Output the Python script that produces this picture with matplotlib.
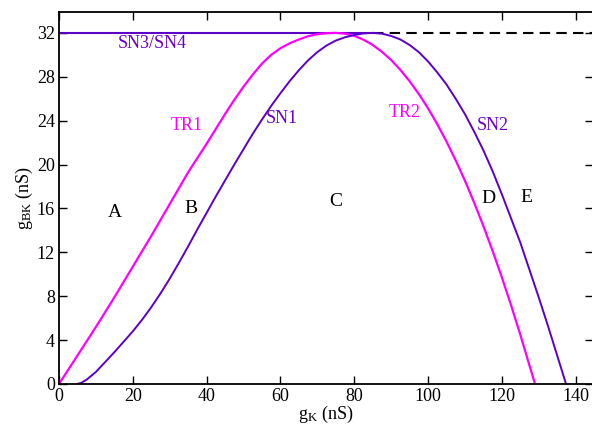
import matplotlib
matplotlib.use('Agg')
from matplotlib import pyplot as plt

# TR1/TR2 curve (magenta)
tr_x = [0, 2.5, 5, 7.5, 10, 12.5, 15, 17.5, 20, 22.5, 25, 27.5, 30, 32.5, 35, 37.5, 40,
        42.5, 45, 47.5, 50, 52.5, 55, 57.5, 60, 62.5, 65, 67.5, 70, 72.5, 75,
        77.5, 80, 82.5, 85, 87.5, 90, 92.5, 95, 97.5, 100, 102.5, 105, 107.5, 110,
        112.5, 115, 117.5, 120, 122.5, 125, 127.5, 129]
tr_y = [0, 1.3, 2.6, 3.9, 5.2, 6.55, 7.9, 9.3, 10.7, 12.1, 13.5, 14.95, 16.4, 17.85, 19.3, 20.6, 21.9,
        23.25, 24.6, 25.9, 27.1, 28.2, 29.2, 30.0, 30.6, 31.05, 31.4, 31.7, 31.88, 31.97, 32.0,
        31.93, 31.73, 31.38, 30.9, 30.28, 29.53, 28.63, 27.6, 26.43, 25.13, 23.68, 22.1, 20.38, 18.53,
        16.53, 14.4, 12.13, 9.73, 7.18, 4.5, 1.68, 0]

# SN1/SN2 curve (purple)
sn_x = [4.9, 6, 7.5, 10, 12.5, 15, 17.5, 20, 22.5, 25, 27.5, 30, 32.5, 35, 37.5, 40,
        42.5, 45, 47.5, 50, 52.5, 55, 57.5, 60, 62.5, 65, 67.5, 70, 72.5, 75, 77.5, 80, 82.5, 85,
        87.5, 90, 92.5, 95, 97.5, 100, 102.5, 105, 107.5, 110, 112.5, 115, 117.5, 120,
        122.5, 125, 127.5, 130, 132.5, 135, 137.4]
sn_y = [0, 0.1, 0.4, 1.1, 2.0, 2.9, 3.85, 4.8, 5.85, 7.0, 8.25, 9.6, 11.05, 12.55, 14.1, 15.6,
        17.1, 18.55, 20.0, 21.4, 22.8, 24.1, 25.35, 26.5, 27.6, 28.6, 29.5, 30.25, 30.85, 31.3, 31.6, 31.8, 31.95, 32.0,
        31.93, 31.72, 31.4, 30.9, 30.25, 29.4, 28.4, 27.3, 26.0, 24.6, 23.0, 21.3, 19.4, 17.3,
        15.1, 12.9, 10.4, 7.9, 5.3, 2.6, 0]

# SN3/SN4 horizontal branch
sn34_x = [0, 85]
sn34_y = [32, 32]
dash_x = [85, 145]
dash_y = [32, 32]

labels = [
    ('SN3/SN4', 25.2, 31.0, '#6a00c8'),
    ('TR1', 34.7, 23.6, '#ff00ff'),
    ('SN1', 60.5, 24.2, '#6a00c8'),
    ('TR2', 93.8, 24.7, '#ff00ff'),
    ('SN2', 117.6, 23.6, '#6a00c8'),
    ('A', 15.2, 15.6, 'black'),
    ('B', 35.8, 16.0, 'black'),
    ('C', 75.0, 16.6, 'black'),
    ('D', 116.3, 16.9, 'black'),
    ('E', 126.6, 17.0, 'black'),
]

plt.rcParams['font.family'] = ['Liberation Serif', 'DejaVu Serif']
plt.rcParams['mathtext.fontset'] = 'custom'
plt.rcParams['mathtext.rm'] = 'Liberation Serif'
plt.rcParams['mathtext.it'] = 'Liberation Serif:italic'

fig = plt.figure(figsize=(5.92, 4.30), dpi=100)
ax = fig.add_axes([0.0997, 0.107, 0.9013, 0.865])

purple = '#5c00c8'
ax.plot(sn34_x, sn34_y, color=purple, lw=1.5)
ax.plot(dash_x, dash_y, color='black', lw=1.5, dashes=(5, 3))
ax.plot(tr_x, tr_y, color='#ff00ff', lw=1.6)
ax.plot(sn_x, sn_y, color=purple, lw=1.4)

for txt, x, y, c in labels:
    fs = 13 if c != 'black' else 14
    ax.text(x, y, txt, color=c, fontsize=fs, ha='center', va='center')

ax.set_xlim(0, 144.6)
ax.set_ylim(0, 33.9)
ax.set_xticks(range(0, 141, 20))
ax.set_yticks(range(0, 33, 4))
ax.tick_params(direction='in', top=True, right=True, length=6, width=1, labelsize=13, pad=3)
for s in ax.spines.values():
    s.set_linewidth(1.3)

ax.set_xlabel(r'g$_{\mathrm{K}}$ (nS)', fontsize=13, labelpad=-1)
ax.set_ylabel(r'g$_{\mathrm{BK}}$ (nS)', fontsize=13, labelpad=1)

fig.savefig('out.png', dpi=100)
